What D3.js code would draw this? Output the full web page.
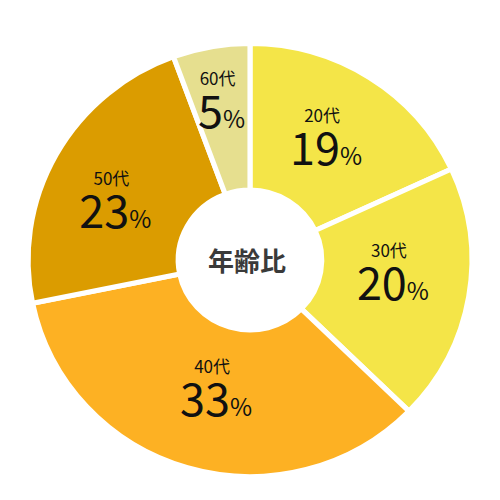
<!DOCTYPE html>
<html><head><meta charset="utf-8">
<script src="https://cdn.jsdelivr.net/npm/d3@7"></script>
<style>html,body{margin:0;padding:0;background:#fff;}svg{display:block;}</style>
</head><body>
<svg id="c" width="500" height="500"></svg>
<script>
const categories = ["20代","30代","40代","50代","60代"];
// percentages printed in the labels
const labelPercents = [19, 20, 33, 23, 5];
const sliceShares = [18.1, 19.2, 34.5, 22.6, 5.6];
const colors = ["#f4e548","#f4e548","#fdb123","#db9c00","#e6df8f"];
const centerTitle = "年齢比";

const svg = d3.select("#c");
const cx = 250, cy = 260;
const font = "'Noto Sans CJK JP','Noto Sans',sans-serif";

const pie = d3.pie().sort(null).value(d => d)(sliceShares);
const arc = d3.arc().innerRadius(70).outerRadius(216.5);

const g = svg.append("g").attr("transform", `translate(${cx},${cy}) scale(1.025,1)`);
g.selectAll("path").data(pie).join("path")
  .attr("d", arc)
  .attr("fill", (d,i) => colors[i])
  .attr("stroke", "#fff")
  .attr("stroke-width", 5)
  .attr("stroke-linejoin", "miter");

// label placement: centroid on a ring, with small visual nudges
const labelArc = d3.arc().innerRadius(145).outerRadius(145);
const nudge = [[-6,-6],[-4,-17],[3,-16],[-12,6],[-7,-22]];

const lg = svg.append("g").attr("transform", `translate(${cx},${cy})`);
pie.forEach((d, i) => {
  const [x0, y0] = labelArc.centroid(d);
  const x = x0 + nudge[i][0], y = y0 + nudge[i][1];
  lg.append("text")
    .attr("x", x).attr("y", y - 10)
    .attr("text-anchor", "middle")
    .attr("font-family", font).attr("font-size", 17)
    .attr("fill", "#111")
    .text(categories[i]);
  const t = lg.append("text")
    .attr("x", x + 4).attr("y", y + 33)
    .attr("text-anchor", "middle")
    .attr("font-family", font)
    .attr("fill", "#111");
  t.append("tspan").attr("font-size", 45).text(labelPercents[i]);
  t.append("tspan").attr("font-size", 24).text("%");
});

svg.append("text")
  .attr("x", cx - 3).attr("y", cy + 11)
  .attr("text-anchor", "middle")
  .attr("font-family", font).attr("font-weight", "bold")
  .attr("font-size", 26).attr("fill", "#3a3a3a")
  .text(centerTitle);
</script>
</body></html>
